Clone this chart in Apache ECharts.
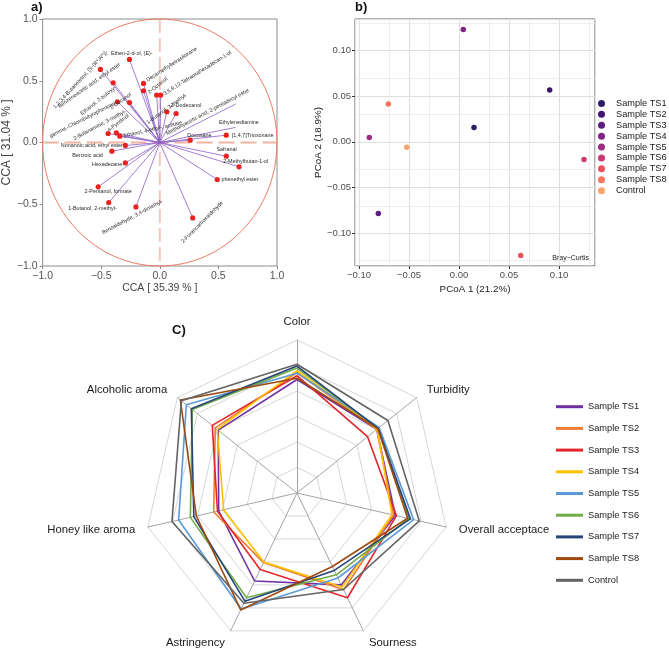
<!DOCTYPE html>
<html><head><meta charset="utf-8">
<script src="https://cdn.jsdelivr.net/npm/echarts@6/dist/echarts.min.js"></script>
<style>html,body{margin:0;padding:0;background:#fff}#c{width:669px;height:653px}</style>
</head><body><div id="c"></div>
<script>
// ---------- Panel a: CCA biplot ----------
const ccaNames = [
  "Ethen-2-d-ol, (E)-", "1,2,3,4-Butanetetrol, [S-(R*,R*)]-", "Benzeneacetic acid, ethyl ester",
  "Decamethyltetrasiloxane", "2-Octanol", "Ethanol, 2-butoxy-", "3,6,9,12-Tetraoxahexadecan-1-ol",
  "gamma.-Chlorobutyrophenone", "2-Decanol", "1-Butanol, 3-methyl-", "2-Dodecanol",
  "Methoxyacetic acid, 2-pentadecyl ester", "Ethylenediamine", "[1,4,7]Trioxonane", "Docosane",
  "Safranal", "2-Methylbutan-1-ol", "phenethyl ester", "2-Furancarboxaldehyde",
  "Benzaldehyde, 3,4-dimethyl-", "1-Butanol, 2-methyl-", "2-Pentanol, formate", "Hexadecane",
  "Benzoic acid", "Nonanoic acid, ethyl ester", "2-Butanamine, 3-methyl-", "4-Pyridinol",
  "Ethanol, 4-ethyl-, acetate"
];
const ccaX = [-0.259,-0.507,-0.398,-0.139,-0.139,-0.027,0.008,-0.362,-0.259,0.060,0.139,
  0.646,0.646,0.567,0.259,0.567,0.676,0.490,0.281,-0.204,-0.436,-0.526,-0.294,-0.409,-0.294,
  -0.441,-0.371,-0.341];
const ccaY = [0.673,0.592,0.484,0.478,0.419,0.384,0.384,0.330,0.324,0.249,0.235,
  0.311,0.122,0.059,0.019,-0.111,-0.197,-0.300,-0.611,-0.522,-0.486,-0.359,-0.165,-0.070,-0.024,
  0.073,0.078,0.051];
const ccaMarker = [1,1,1,1,1,1,1,1,1,1,1,0,0,1,1,1,1,1,1,1,1,1,1,1,1,1,1,1];
const ccaTicks = [-1, -0.5, 0, 0.5, 1];
// label placement (style only): [dx, dy, rotateDeg, align]
const ccaLabelLayout = [
  [2.3,-6,0,'center'],[6.7,-18.3,47,'right'],[6.6,-18.7,35,'right'],
  [3.5,-3,33,'left'],[5,2,38,'left'],[-41,-8,38,'right'],[3.2,-1,32,'left'],
  [-2.5,1.5,27,'right'],[1.3,-8.3,35,'right'],[0,-3,36,'center'],[10,-8,0,'center'],
  [13.4,-14,28,'right'],[3.4,-4.6,0,'center'],[5.6,0,0,'left'],[9.3,-5,0,'center'],
  [0.3,-6.7,0,'center'],[6.7,-5,0,'center'],[4.2,0,0,'left'],[29.6,-16,45,'right'],
  [26.7,-6,28,'right'],[-16.3,6,0,'center'],[10,5,0,'center'],[-3,1.5,0,'right'],
  [-24.3,4.7,0,'center'],[-2.5,0,0,'right'],[17.7,-22.3,28,'right'],[12,-17.7,38,'right'],
  [3.8,0,13,'left']
];

// ---------- Panel b: PCoA ----------
const pcoaNames = ["Sample TS1","Sample TS2","Sample TS3","Sample TS4","Sample TS5","Sample TS6","Sample TS7","Sample TS8","Control"];
const pcoaX = [0.015, 0.0907, -0.0807, 0.0043, -0.0897, 0.125, 0.0617, -0.0707, -0.0523];
const pcoaY = [0.0158, 0.0566, -0.0784, 0.123, 0.0048, -0.0193, -0.1244, 0.0413, -0.0058];
const pcoaColors = ["#2f1d63","#41166f","#5b1e7f","#7c2582","#9d2d7f","#c93b72","#e8515f","#f7755a","#fca26e"];
const pcoaMajor = [-0.10, -0.05, 0.00, 0.05, 0.10];

// ---------- Panel c: radar ----------
// indicators in counter-clockwise order starting at the top
const radarAxes = ["Color","Alcoholic aroma","Honey like aroma","Astringency","Sourness","Overall acceptace","Turbidity"];
const radarNames = ["Sample TS1","Sample TS2","Sample TS3","Sample TS4","Sample TS5","Sample TS6","Sample TS7","Sample TS8","Control"];
const radarTS1 = [4.45, 3.95, 3.15, 3.83, 4.00, 3.95, 4.00];
const radarTS2 = [4.72, 4.10, 3.35, 3.03, 4.21, 3.88, 4.00];
const radarTS3 = [4.60, 4.25, 3.20, 3.33, 4.56, 4.00, 3.54];
const radarTS4 = [4.80, 4.00, 2.95, 3.00, 4.09, 3.82, 4.02];
const radarTS5 = [4.70, 5.55, 4.76, 5.05, 3.70, 4.69, 4.12];
const radarTS6 = [4.90, 5.25, 4.29, 4.56, 3.56, 4.50, 4.07];
const radarTS7 = [4.98, 5.30, 4.15, 4.71, 3.37, 4.56, 4.07];
const radarTS8 = [4.50, 5.85, 4.05, 5.09, 3.20, 4.45, 4.05];
const radarControl = [5.05, 5.80, 5.03, 4.80, 4.20, 4.92, 4.56];
const radarValues = [radarTS1,radarTS2,radarTS3,radarTS4,radarTS5,radarTS6,radarTS7,radarTS8,radarControl];
const radarColors = ["#7030a0","#ed7d31","#e3262b","#ffc000","#5b9bd5","#70ad47","#264478","#9e480e","#636363"];
const radarMax = 6;

// ---------- build ----------
const FONT = '"Liberation Sans", Arial, sans-serif';
const fmtMinus = (v, d) => v.toFixed(d).replace('-', '\u2212');

const chart = echarts.init(document.getElementById('c'));

const ccaData = ccaNames.map((n, i) => ({ name: n, value: [ccaX[i], ccaY[i]] }));

// minor grid lines for PCoA (half-way between major ticks)
const pxMin = -0.104, pxMax = 0.136, pyMin = -0.1358, pyMax = 0.1344;
const half = (pcoaMajor[1] - pcoaMajor[0]) / 2;
function minors(lo, hi) {
  const out = [];
  for (let v = pcoaMajor[0] - half * 3; v <= hi + 1e-9; v += half * 2) {
    if (v > lo && v < hi) out.push(Math.round(v * 1000) / 1000);
  }
  return out;
}
const minorX = minors(pxMin, pxMax), minorY = minors(pyMin, pyMax);

const pcoaSeries = pcoaNames.map((n, i) => ({
  type: 'scatter', name: n, xAxisIndex: 1, yAxisIndex: 1,
  data: [[pcoaX[i], pcoaY[i]]], symbolSize: 5.5,
  itemStyle: { color: pcoaColors[i], opacity: 1 }, z: 3
}));
pcoaSeries[0].markLine = {
  silent: true, symbol: 'none', z: 1, animation: false,
  label: { show: false },
  lineStyle: { color: '#e9e9e9', width: 0.8, type: 'solid' },
  data: minorX.map(v => ({ xAxis: v })).concat(minorY.map(v => ({ yAxis: v })))
};

const option = {
  animation: false,
  textStyle: { fontFamily: FONT },
  grid: [
    { left: 33, top: 19, width: 244, height: 247, show: true, borderColor: '#8c8c8c', borderWidth: 1, backgroundColor: '#fff' },
    { left: 355, top: 19, width: 240, height: 247, show: true, borderColor: '#333', borderWidth: 0.8, backgroundColor: '#fff' }
  ],
  xAxis: [
    { gridIndex: 0, type: 'value', min: ccaTicks[0], max: ccaTicks[ccaTicks.length - 1], interval: 0.5,
      axisLine: { show: false, onZero: false }, axisTick: { show: true, length: 3, lineStyle: { color: '#8c8c8c' } },
      splitLine: { show: false },
      axisLabel: { color: '#555', fontSize: 10.5, margin: 5, formatter: v => fmtMinus(v, 1) },
      name: 'CCA [ 35.39 % ]', nameLocation: 'middle', nameGap: 16,
      nameTextStyle: { color: '#444', fontSize: 10.5 } },
    { gridIndex: 1, type: 'value', min: pxMin, max: pxMax, splitNumber: 5,
      axisLine: { show: false, onZero: false }, axisTick: { show: true, length: 3, lineStyle: { color: '#333' } },
      splitLine: { show: true, lineStyle: { color: '#dedede', width: 1.1 } },
      axisLabel: { color: '#4d4d4d', fontSize: 9.5, margin: 4, showMinLabel: false, showMaxLabel: false,
        formatter: v => fmtMinus(v, 2) },
      name: 'PCoA 1 (21.2%)', nameLocation: 'middle', nameGap: 18,
      nameTextStyle: { color: '#222', fontSize: 9.8 } }
  ],
  yAxis: [
    { gridIndex: 0, type: 'value', min: ccaTicks[0], max: ccaTicks[ccaTicks.length - 1], interval: 0.5,
      axisLine: { show: false, onZero: false }, axisTick: { show: true, length: 3, lineStyle: { color: '#8c8c8c' } },
      splitLine: { show: false },
      axisLabel: { color: '#555', fontSize: 10.5, margin: 5, formatter: v => fmtMinus(v, 1) },
      name: 'CCA [ 31.04 % ]', nameLocation: 'middle', nameGap: 20, nameRotate: 90,
      nameTextStyle: { color: '#444', fontSize: 12 } },
    { gridIndex: 1, type: 'value', min: pyMin, max: pyMax, splitNumber: 5,
      axisLine: { show: false, onZero: false }, axisTick: { show: true, length: 3, lineStyle: { color: '#333' } },
      splitLine: { show: true, lineStyle: { color: '#dedede', width: 1.1 } },
      axisLabel: { color: '#4d4d4d', fontSize: 9.5, margin: 4, showMinLabel: false, showMaxLabel: false,
        formatter: v => fmtMinus(v, 2) },
      name: 'PCoA 2 (18.9%)', nameLocation: 'middle', nameGap: 25, nameRotate: 90,
      nameTextStyle: { color: '#222', fontSize: 9.8 } }
  ],
  radar: {
    center: [297, 493], radius: 153, startAngle: 90, splitNumber: 6, shape: 'polygon',
    indicator: radarAxes.map(n => ({ name: n, min: 0, max: radarMax })),
    axisName: { color: '#1a1a1a', fontSize: 11.3, fontFamily: FONT },
    axisNameGap: 13,
    splitLine: { lineStyle: { color: '#d6d6d6', width: 1 } },
    splitArea: { show: false },
    axisLine: { lineStyle: { color: '#a3a3a3', width: 1 } },
    axisTick: { show: false }, axisLabel: { show: false }
  },
  legend: [
    { data: pcoaNames, orient: 'vertical', left: 593, top: 93, icon: 'circle',
      itemWidth: 7, itemHeight: 7, itemGap: 0, selectedMode: false,
      textStyle: { fontSize: 9.2, lineHeight: 10.9, color: '#1a1a1a', padding: [0, 0, 0, 6] } },
    { data: radarNames.map((n, i) => ({ name: n, icon: 'rect', itemStyle: { color: radarColors[i], borderWidth: 0, opacity: 1 } })),
      orient: 'vertical', left: 551, top: 395.7, itemWidth: 27, itemHeight: 3, itemGap: 9.7, selectedMode: false,
      textStyle: { fontSize: 9.3, lineHeight: 12, color: '#222' } }
  ],
  graphic: [
    { type: 'text', left: 31, top: 1, style: { text: 'a)', font: 'bold 13px ' + FONT, fill: '#111' } },
    { type: 'text', left: 355, top: 1, style: { text: 'b)', font: 'bold 13px ' + FONT, fill: '#111' } },
    { type: 'text', left: 172, top: 324, style: { text: 'C)', font: 'bold 13px ' + FONT, fill: '#111' } },
    { type: 'text', right: 80, top: 255, style: { text: 'Bray\u2212Curtis', font: '7px ' + FONT, fill: '#222' } }
  ],
  series: [
    { // reference circle and zero lines
      type: 'custom', xAxisIndex: 0, yAxisIndex: 0, data: [[0, 0]], silent: true, clip: false, z: 1,
      renderItem: (params, api) => {
        const c = api.coord([0, 0]);
        const s = api.size([1, 1]);
        const top = api.coord([0, ccaTicks[ccaTicks.length - 1]]), bot = api.coord([0, ccaTicks[0]]);
        const lft = api.coord([ccaTicks[0], 0]), rgt = api.coord([ccaTicks[ccaTicks.length - 1], 0]);
        return { type: 'group', children: [
          { type: 'line', shape: { x1: c[0], y1: top[1], x2: c[0], y2: bot[1] },
            style: { stroke: '#f7c8ba', lineWidth: 2, lineDash: [14, 5] } },
          { type: 'line', shape: { x1: lft[0], y1: c[1], x2: rgt[0], y2: c[1] },
            style: { stroke: '#f4b3a1', lineWidth: 2, lineDash: [16, 6] } },
          { type: 'ellipse', shape: { cx: c[0], cy: c[1], rx: s[0], ry: s[1] },
            style: { fill: 'none', stroke: '#ec7a62', lineWidth: 1 } }
        ] };
      }
    },
    { // vectors
      type: 'custom', xAxisIndex: 0, yAxisIndex: 0, data: ccaData, silent: true, clip: false, z: 2,
      renderItem: (params, api) => {
        const o = api.coord([0, 0]);
        const p = api.coord([api.value(0), api.value(1)]);
        return { type: 'line', shape: { x1: o[0], y1: o[1], x2: p[0], y2: p[1] },
          style: { stroke: '#8a5ec8', lineWidth: 0.8 } };
      }
    },
    { // points and labels
      type: 'custom', xAxisIndex: 0, yAxisIndex: 0, data: ccaData, silent: true, clip: false, z: 3,
      renderItem: (params, api) => {
        const i = params.dataIndex;
        const p = api.coord([api.value(0), api.value(1)]);
        const L = ccaLabelLayout[i];
        const kids = [];
        if (ccaMarker[i]) kids.push({ type: 'circle', shape: { cx: p[0], cy: p[1], r: 2.6 }, style: { fill: '#e8231f' } });
        kids.push({ type: 'text', x: p[0] + L[0], y: p[1] + L[1], rotation: L[2] * Math.PI / 180,
          style: { text: ccaNames[i], fill: '#2a2a2a', font: '5.4px ' + FONT,
            align: L[3], textAlign: L[3], verticalAlign: 'middle', textVerticalAlign: 'middle' } });
        return { type: 'group', children: kids };
      }
    },
    ...pcoaSeries,
    {
      type: 'radar', symbol: 'none', silent: true, z: 2,
      data: radarNames.map((n, i) => ({
        name: n, value: radarValues[i],
        lineStyle: { color: radarColors[i], width: 1.6 },
        itemStyle: { color: radarColors[i] }
      }))
    }
  ]
};
chart.setOption(option);
</script></body></html>
